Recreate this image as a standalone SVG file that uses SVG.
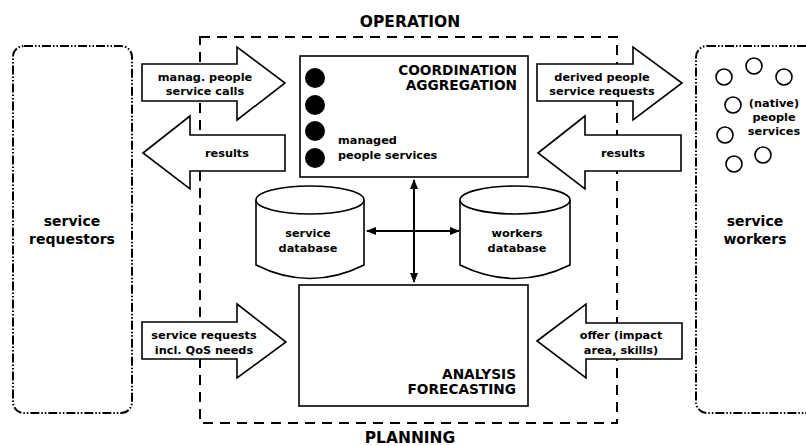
<svg xmlns="http://www.w3.org/2000/svg" width="806" height="446" viewBox="0 0 806 446">
<defs>
<style>
text{font-family:"DejaVu Sans","Liberation Sans",sans-serif;font-weight:bold;fill:#000}
.b{font-size:11.3px}
.big{font-size:14px}
.cap{font-size:13.7px}
.title{font-size:15.5px}
.arrow{fill:#fff;stroke:#000;stroke-width:1.6;stroke-linejoin:miter}
.box{fill:#fff;stroke:#000;stroke-width:1.6}
.dd{fill:none;stroke:#000;stroke-width:2;stroke-dasharray:9 2 1.5 2 1.5 2}
</style>
<marker id="ah" viewBox="0 0 10 10" refX="9" refY="5" markerWidth="10" markerHeight="10" markerUnits="userSpaceOnUse" orient="auto-start-reverse">
<path d="M0,1 L10,5 L0,9 Z" fill="#000"/>
</marker>
</defs>
<rect width="806" height="446" fill="#fff"/>

<g id="operation-area">
<rect x="200" y="37" width="417" height="386" fill="none" stroke="#000" stroke-width="2" stroke-dasharray="10 7"/>
<text x="410" y="27" text-anchor="middle" class="title">OPERATION</text>
<text x="410" y="443" text-anchor="middle" class="title">PLANNING</text>
</g>

<g id="service-requestors">
<rect x="13" y="46" width="119" height="367" rx="11" class="dd"/>
<text x="72" y="226" text-anchor="middle" class="big">service</text>
<text x="72" y="244" text-anchor="middle" class="big">requestors</text>
</g>

<g id="service-workers">
<rect x="696" y="46" width="120" height="367" rx="11" class="dd"/>
<g fill="none" stroke="#000" stroke-width="1.6">
<circle cx="724" cy="77" r="8"/>
<circle cx="754" cy="66" r="8"/>
<circle cx="784" cy="77" r="8"/>
<circle cx="733" cy="105" r="8"/>
<circle cx="725" cy="135" r="8"/>
<circle cx="763" cy="155" r="8"/>
<circle cx="734" cy="164" r="8"/>
</g>
<text x="774" y="107" text-anchor="middle" class="b">(native)</text>
<text x="774" y="121" text-anchor="middle" class="b">people</text>
<text x="774" y="135" text-anchor="middle" class="b">services</text>
<text x="755" y="226" text-anchor="middle" class="big">service</text>
<text x="755" y="244" text-anchor="middle" class="big">workers</text>
</g>

<g id="coordination">
<rect x="300" y="56" width="228" height="121" class="box"/>
<g fill="#000">
<circle cx="315" cy="78" r="10"/>
<circle cx="315" cy="105" r="10"/>
<circle cx="315" cy="131" r="10"/>
<circle cx="315" cy="158" r="10"/>
</g>
<text x="517" y="74.5" text-anchor="end" class="cap">COORDINATION</text>
<text x="517" y="89.5" text-anchor="end" class="cap">AGGREGATION</text>
<text x="338" y="144" class="b">managed</text>
<text x="338" y="159" class="b">people services</text>
</g>

<g id="analysis">
<rect x="299" y="285" width="229" height="121" class="box"/>
<text x="516" y="379" text-anchor="end" class="cap">ANALYSIS</text>
<text x="516" y="394" text-anchor="end" class="cap">FORECASTING</text>
</g>

<g id="service-database">
<path d="M256,200 L256,265 Q310,292 364,265 L364,200" class="box"/>
<ellipse cx="310" cy="200" rx="54" ry="14" class="box"/>
<text x="308" y="237" text-anchor="middle" class="b">service</text>
<text x="308" y="252" text-anchor="middle" class="b">database</text>
</g>

<g id="workers-database">
<path d="M460,200 L460,265 Q515,292 570,265 L570,200" class="box"/>
<ellipse cx="515" cy="200" rx="55" ry="14" class="box"/>
<text x="517" y="237" text-anchor="middle" class="b">workers</text>
<text x="517" y="252" text-anchor="middle" class="b">database</text>
</g>

<g id="connectors">
<line x1="414" y1="180" x2="414" y2="282" stroke="#000" stroke-width="2" marker-start="url(#ah)" marker-end="url(#ah)"/>
<line x1="367" y1="231" x2="459" y2="231" stroke="#000" stroke-width="2" marker-start="url(#ah)" marker-end="url(#ah)"/>
</g>

<g id="arrow-calls">
<path d="M142,64 L237,64 L237,47 L285,83 L237,120 L237,101 L142,101 Z" class="arrow"/>
<text x="205" y="81" text-anchor="middle" class="b">manag. people</text>
<text x="205" y="95" text-anchor="middle" class="b">service calls</text>
</g>

<g id="arrow-results-left">
<path d="M143,153 L190,116 L190,135 L285,135 L285,171 L190,171 L190,189 Z" class="arrow"/>
<text x="227" y="157" text-anchor="middle" class="b">results</text>
</g>

<g id="arrow-derived">
<path d="M537,64 L633,64 L633,47 L682,83 L633,120 L633,101 L537,101 Z" class="arrow"/>
<text x="602" y="81" text-anchor="middle" class="b">derived people</text>
<text x="602" y="95" text-anchor="middle" class="b">service requests</text>
</g>

<g id="arrow-results-right">
<path d="M538,153 L585,116 L585,135 L681,135 L681,171 L585,171 L585,189 Z" class="arrow"/>
<text x="623" y="157" text-anchor="middle" class="b">results</text>
</g>

<g id="arrow-requests">
<path d="M142,322 L237,322 L237,304 L286,342 L237,378 L237,359 L142,359 Z" class="arrow"/>
<text x="204" y="339" text-anchor="middle" class="b">service requests</text>
<text x="204" y="354" text-anchor="middle" class="b">incl. QoS needs</text>
</g>

<g id="arrow-offer">
<path d="M537,341 L586,304 L586,323 L682,323 L682,359 L586,359 L586,378 Z" class="arrow"/>
<text x="621" y="339" text-anchor="middle" class="b">offer (impact</text>
<text x="621" y="354" text-anchor="middle" class="b">area, skills)</text>
</g>
</svg>
